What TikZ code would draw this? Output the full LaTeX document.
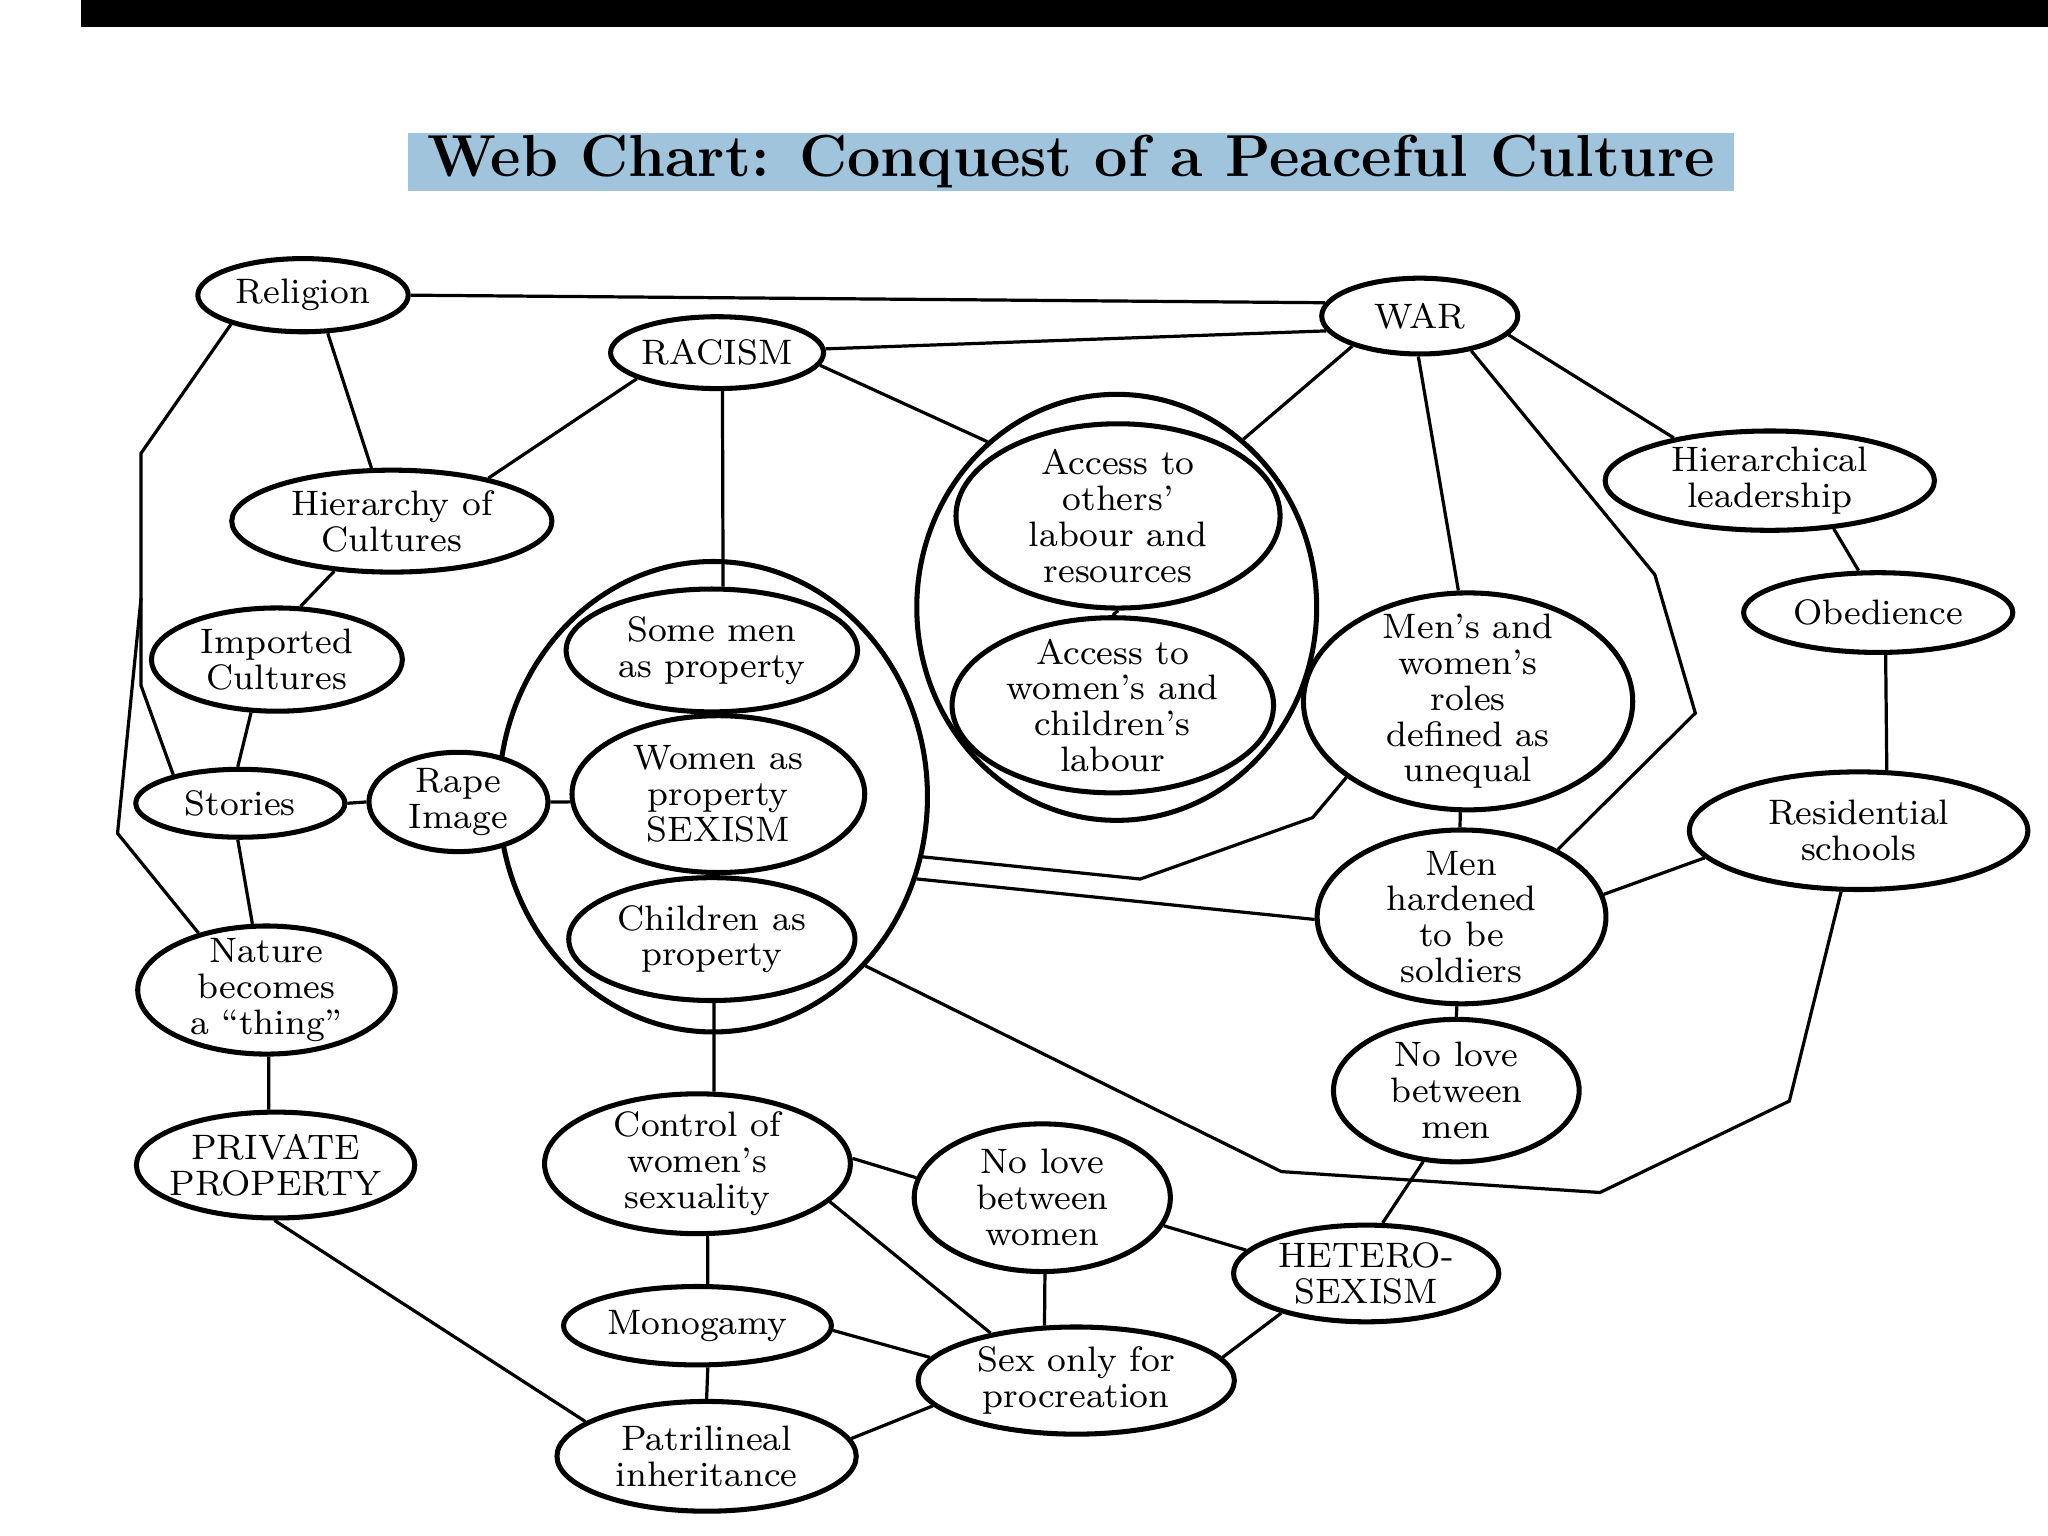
\documentclass[tikz,border=0pt]{standalone}
\usepackage{tikz}
\usetikzlibrary{shapes.geometric}
\definecolor{titleblue}{RGB}{160,196,220}
\tikzset{web/.style 2 args={ellipse, draw, line width=1.1pt, fill=white, inner sep=0pt, minimum width=#1, minimum height=#2},
	group/.style 2 args={ellipse, draw, line width=1.1pt, inner sep=0pt, minimum width=#1, minimum height=#2},
	txt/.style={align=center, font=\fontsize{7.7}{7.8}\selectfont},
	link/.style={line width=0.7pt}}

\begin{document}
\begin{tikzpicture}[x=0.01cm, y=-0.01cm]
		\useasboundingbox (0,0) rectangle (1568,1176);
		\fill[black] (62,0) rectangle (1568,21);
		\node[fill=titleblue, inner sep=0pt, minimum width=101.4mm, minimum height=4.4mm, font=\fontsize{12.9}{14}\selectfont\bfseries] (title) at (820,124) {Web Chart: Conquest of a Peaceful Culture};

		% groups drawn first
		\node[group={32.8mm}{36.0mm}] (propgroup) at (546,610) {};
		\node[group={30.6mm}{32.6mm}] (accgroup) at (855,465) {};

		\node[web={16.1mm}{5.6mm}, label={[txt]center:Religion}] (religion) at (232,226) {};
		\node[web={15.0mm}{5.8mm}, label={[txt]center:WAR}] (war) at (1087,242) {};
		\node[web={16.3mm}{5.5mm}, label={[txt]center:RACISM}] (racism) at (549,270) {};
		\node[web={24.5mm}{7.8mm}, label={[txt]center:Hierarchy of\\Cultures}] (hierarchy) at (300,399) {};
		\node[web={19.2mm}{7.9mm}, label={[txt]center:Imported\\Cultures}] (imported) at (212,505) {};
		\node[web={16.0mm}{5.2mm}, label={[txt]center:Stories}] (stories) at (184,615) {};
		\node[web={13.7mm}{7.6mm}, label={[txt]center:Rape\\Image}] (rape) at (351,614) {};
		\node[web={22.3mm}{9.4mm}, label={[txt]center:Some men\\as property}] (somemen) at (545,498) {};
		\node[web={22.4mm}{12.0mm}, label={[txt]center:Women as\\property\\SEXISM}] (women) at (550,608) {};
		\node[web={21.9mm}{9.4mm}, label={[txt]center:Children as\\property}] (children) at (545,719) {};
		\node[web={24.8mm}{14.1mm}, label={[txt]center:Access to\\others'\\labour and\\resources}] (others) at (856,395) {};
		\node[web={24.6mm}{13.4mm}, label={[txt]center:Access to\\women's and\\children's\\labour}] (womenlabour) at (852,540) {};
		\node[web={25.2mm}{16.6mm}, label={[txt]center:Men's and\\women's\\roles\\defined as\\unequal}] (roles) at (1124,537) {};
		\node[web={25.2mm}{7.6mm}, label={[txt]center:Hierarchical\\leadership}] (leadership) at (1355,368) {};
		\node[web={20.6mm}{6.1mm}, label={[txt]center:Obedience}] (obedience) at (1438,469) {};
		\node[web={25.9mm}{9.0mm}, label={[txt]center:Residential\\schools}] (schools) at (1423,636) {};
		\node[web={22.1mm}{13.3mm}, label={[txt]center:Men\\hardened\\to be\\soldiers}] (soldiers) at (1119,702) {};
		\node[web={18.8mm}{10.9mm}, label={[txt]center:No love\\between\\men}] (nolovemen) at (1115,835) {};
		\node[web={19.7mm}{9.8mm}, label={[txt]center:Nature\\becomes\\a ``thing''}] (nature) at (204,758) {};
		\node[web={21.3mm}{8.1mm}, label={[txt]center:PRIVATE\\PROPERTY}] (private) at (211,892) {};
		\node[web={23.4mm}{10.7mm}, label={[txt]center:Control of\\women's\\sexuality}] (control) at (534,891) {};
		\node[web={19.6mm}{11.3mm}, label={[txt]center:No love\\between\\women}] (nolovewomen) at (798,917) {};
		\node[web={20.3mm}{7.4mm}, label={[txt]center:HETERO-\\SEXISM}] (hetero) at (1046,975) {};
		\node[web={20.5mm}{6.0mm}, label={[txt]center:Monogamy}] (monogamy) at (534,1015) {};
		\node[web={24.2mm}{8.2mm}, label={[txt]center:Sex only for\\procreation}] (sexonly) at (824,1057) {};
		\node[web={22.9mm}{8.4mm}, label={[txt]center:Patrilineal\\inheritance}] (patrilineal) at (541,1115) {};

		% bends of the long links
		\coordinate (lefttop) at (108,347);
		\coordinate (leftmid) at (108,458);
		\coordinate (leftlow) at (108,525);
		\coordinate (leftfoot) at (90,638);
		\coordinate (warbend1) at (1267,440);
		\coordinate (warbend2) at (1298,546);
		\coordinate (rolesbend1) at (873,673);
		\coordinate (rolesbend2) at (1005,626);
		\coordinate (schoolbend1) at (1370,843);
		\coordinate (schoolbend2) at (1225,913);
		\coordinate (schoolbend3) at (981,897);

		\draw[link] (religion.0) -- (war.172);
		\draw[link] (racism.2) -- (war.189);
		\draw[link] (religion.202) -- (lefttop) -- (leftlow) -- (stories.157);
		\draw[link] (leftmid) -- (leftfoot) -- (nature.140);
		\draw[link] (religion.303) -- (hierarchy.111);
		\draw[link] (racism.198) -- (hierarchy.24);
		\draw[link] (racism.278) -- (somemen.80);
		\draw[link] (racism.353) -- (accgroup.128);
		\draw[link] (war.204) -- (accgroup.53);
		\draw[link] (war.268) -- (roles.95);
		\draw[link] (war.326) -- (warbend1) -- (warbend2) -- (soldiers.35);
		\draw[link] (war.348) -- (leadership.156);
		\draw[link] (leadership.323) -- (obedience.115);
		\draw[link] (obedience.280) -- (schools.65);
		\draw[link] (schools.190) -- (soldiers.9);
		\draw[link] (schools.254) -- (schoolbend1) -- (schoolbend2) -- (schoolbend3) -- (propgroup.312);
		\draw[link] (propgroup.344) -- (rolesbend1) -- (rolesbend2) -- (roles.212);
		\draw[link] (propgroup.338) -- (soldiers.181);
		\draw[link] (roles.266) -- (soldiers.91);
		\draw[link] (soldiers.267) -- (nolovemen.90);
		\draw[link] (nolovemen.245) -- (hetero.72);
		\draw[link] (others.south) -- (womenlabour.north);
		\draw[link] (children.272) -- (control.77);
		\draw[link] (control.2) -- (nolovewomen.171);
		\draw[link] (control.344) -- (sexonly.151);
		\draw[link] (control.278) -- (monogamy.76);
		\draw[link] (nolovewomen.347) -- (hetero.169);
		\draw[link] (nolovewomen.272) -- (sexonly.120);
		\draw[link] (monogamy.358) -- (sexonly.171);
		\draw[link] (monogamy.284) -- (patrilineal.90);
		\draw[link] (sexonly.190) -- (patrilineal.7);
		\draw[link] (sexonly.9) -- (hetero.205);
		\draw[link] (private.269) -- (patrilineal.164);
		\draw[link] (nature.272) -- (private.97);
		\draw[link] (stories.266) -- (nature.102);
		\draw[link] (imported.244) -- (stories.94);
		\draw[link] (hierarchy.221) -- (imported.66);
		\draw[link] (stories.0) -- (rape.180);
		\draw[link] (rape.0) -- (women.183);
\end{tikzpicture}
\end{document}
